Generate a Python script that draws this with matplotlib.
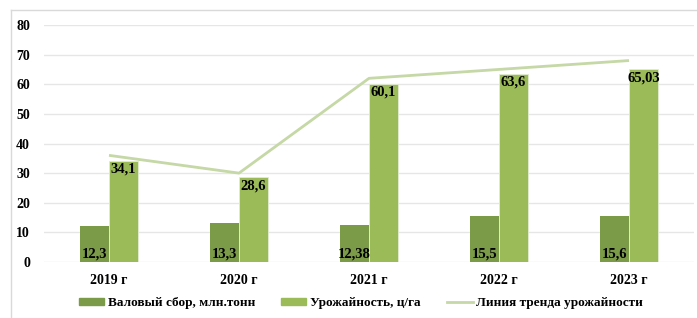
import matplotlib
matplotlib.use("Agg")
import matplotlib.pyplot as plt
import numpy as np
from matplotlib.lines import Line2D
from matplotlib.patches import Patch

categories = ["2019 г", "2020 г", "2021 г", "2022 г", "2023 г"]
gross = [12.3, 13.3, 12.38, 15.5, 15.6]
gross_labels = ["12,3", "13,3", "12,38", "15,5", "15,6"]
yield_vals = [34.1, 28.6, 60.1, 63.6, 65.03]
yield_labels = ["34,1", "28,6", "60,1", "63,6", "65,03"]
trend = [36.0, 30.0, 62.0, 65.0, 68.0]
yticks = [0, 10, 20, 30, 40, 50, 60, 70, 80]

c_dark = "#7b9b48"
c_light = "#9bbb59"
c_trend = "#c5d8a6"
serif = ["Liberation Serif", "DejaVu Serif"]

W, H = 697, 318
fig = plt.figure(figsize=(W / 100, H / 100), dpi=100)
ax = fig.add_axes([44 / W, 56 / H, 650 / W, 237 / H])

x = np.arange(len(categories))
bw = 29 / 130
b1 = ax.bar(x - bw / 2, gross, bw, color=c_dark, zorder=3)
b2 = ax.bar(x + bw / 2, yield_vals, bw, color=c_light, edgecolor="#e3ecd3", linewidth=0.6, zorder=3)
ax.plot(x, trend, color=c_trend, lw=2.0, zorder=4, solid_capstyle="butt")

for xi, v, lab in zip(x, gross, gross_labels):
    ax.text(xi - bw / 2, 0.4, lab, ha="center", va="bottom", fontsize=10.5,
            fontweight="bold", family=serif, color="black", zorder=5)
for xi, v, lab in zip(x, yield_vals, yield_labels):
    ax.text(xi + bw / 2, v - 0.6, lab, ha="center", va="top", fontsize=10.5,
            fontweight="bold", family=serif, color="black", zorder=5)

ax.set_xlim(-0.5, len(categories) - 0.5)
ax.set_ylim(0, 80)
ax.set_yticks(yticks)
ax.set_xticks(x)
ax.set_xticklabels(categories)
for lbl in ax.get_yticklabels() + ax.get_xticklabels():
    lbl.set_fontfamily(serif)
    lbl.set_fontweight("bold")
    lbl.set_fontsize(10)
ax.tick_params(axis="both", length=0)
ax.tick_params(axis="y", pad=10)
ax.tick_params(axis="x", pad=9)
ax.yaxis.grid(True, color="#e6e6e6", lw=1, zorder=0)
ax.set_axisbelow(True)
for s in ax.spines.values():
    s.set_visible(False)

handles = [Patch(color=c_dark), Patch(color=c_light), Line2D([], [], color=c_trend, lw=2.0)]
labels = ["Валовый сбор, млн.тонн", "Урожайность, ц/га", "Линия тренда урожайности"]
fig.legend(handles, labels, loc="center", bbox_to_anchor=(361 / W, 1 - 303 / H), ncol=3,
           frameon=False, prop={"family": serif, "weight": "bold", "size": 9.5},
           handlelength=1.9, handleheight=0.45, handletextpad=0.3, columnspacing=2.0)

# outer chart border
fig.add_artist(Line2D([11 / W, 1], [1 - 10 / H, 1 - 10 / H], transform=fig.transFigure, color="#d9d9d9", lw=1))
fig.add_artist(Line2D([11 / W, 11 / W], [0, 1 - 10 / H], transform=fig.transFigure, color="#d9d9d9", lw=1))

fig.savefig("out.png", dpi=100)
